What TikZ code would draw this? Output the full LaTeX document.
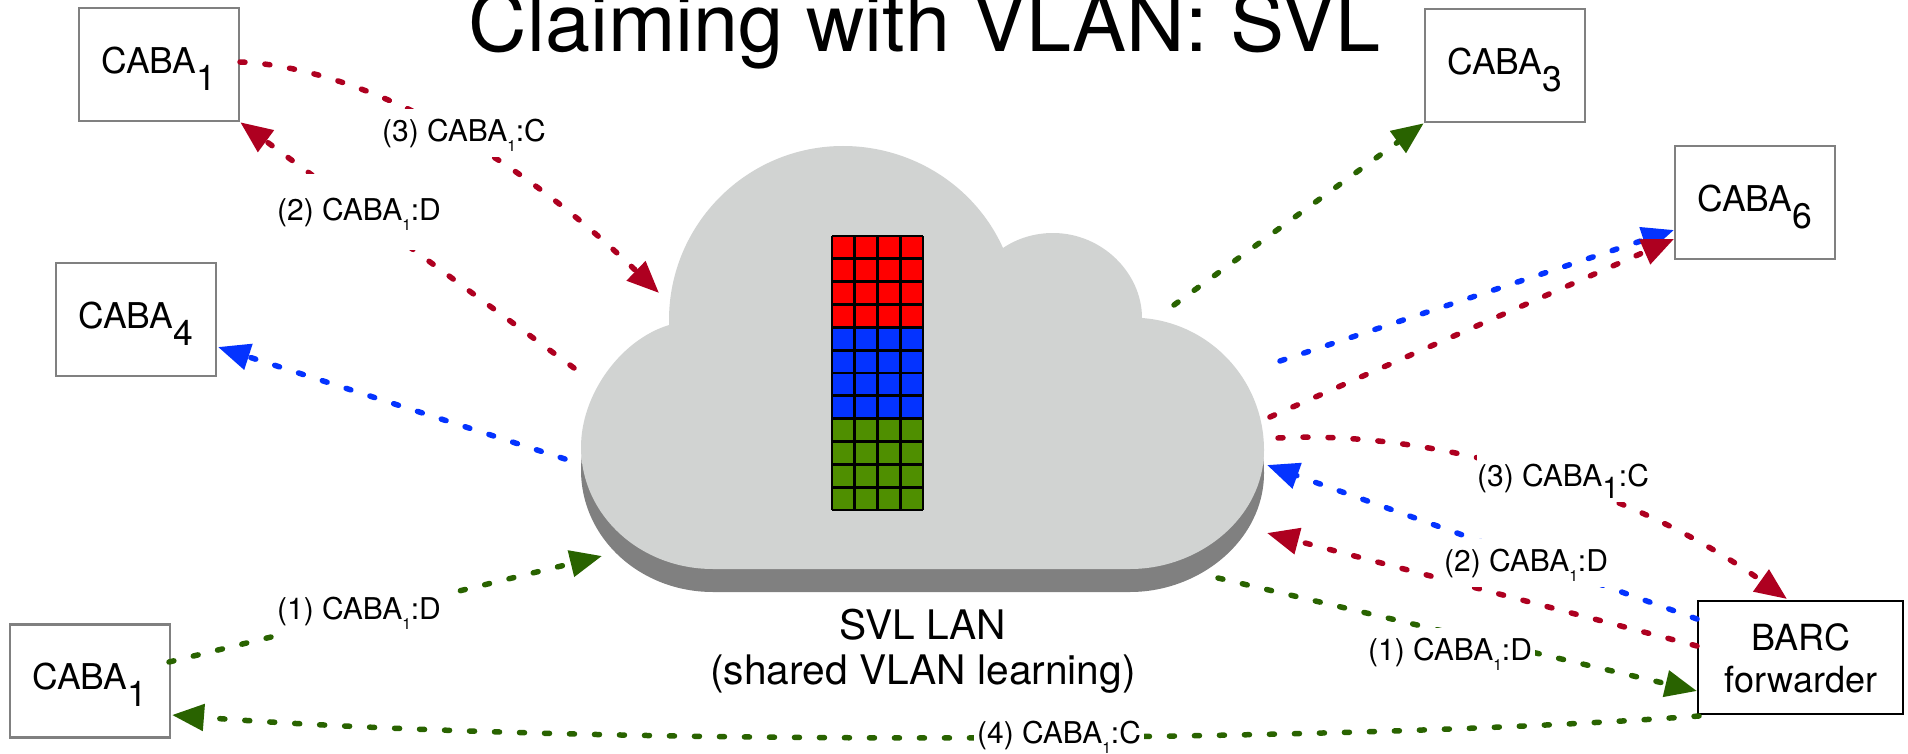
\documentclass[tikz,border=0pt]{standalone}
\usepackage{fontspec}
\setmainfont{TeX Gyre Heros}
\usetikzlibrary{arrows.meta}
\definecolor{redc}{HTML}{AE0020}
\definecolor{bluec}{HTML}{0433FF}
\definecolor{greenc}{HTML}{296300}
\definecolor{cellgreen}{HTML}{4F8F00}
\definecolor{cellred}{HTML}{FF0000}
\definecolor{cloudc}{HTML}{D1D3D2}
\definecolor{shadec}{HTML}{808080}
\newcommand{\boxlab}[1]{\raisebox{9pt}{CABA\smash{\raisebox{-17pt}{#1}}}}
\newcommand{\smalllab}[2]{(#1) CABA\smash{\raisebox{-10pt}{\fontsize{15.5}{15.5}\selectfont 1}}:#2}
\newcommand{\biglab}[2]{(#1) CABA\smash{\raisebox{-12.7pt}{1}}:#2}
\newcommand{\cloudpath}{(581,447) .. controls (581,395) and (620,340) .. (669,325) -- (669,320) .. controls (669,224) and (747,146) .. (843,146) .. controls (911.5,146) and (974.8,185.4) .. (1003,248) .. controls (1017.7,238) and (1035.3,233) .. (1053,233) .. controls (1102,233) and (1142,273) .. (1142,318) .. controls (1210,323) and (1264,380) .. (1264,450) .. controls (1264,517) and (1200,569) .. (1130,569) -- (713,569) .. controls (640,569) and (581,515) .. (581,447) -- cycle}
\tikzset{
  caba/.style={draw=shadec,line width=2.5pt,fill=white,minimum width=160pt,minimum height=113pt,inner sep=0pt,font=\fontsize{35.5}{42}\selectfont},
  conn/.style={line width=5.5pt,line cap=round,dash pattern=on 5pt off 20pt,-{Triangle[length=32pt,width=26pt]}},
  lab/.style={fill=white,inner sep=0pt,minimum width=170pt,minimum height=48pt,font=\fontsize{30}{34}\selectfont},
  barctxt/.style={font=\fontsize{36}{42}\selectfont,align=center,inner sep=0pt},
  lantxt/.style={font=\fontsize{40.7}{45}\selectfont,anchor=base,inner sep=0pt},
  titletxt/.style={font=\fontsize{81}{90}\selectfont,anchor=base,inner sep=0pt},
}
\begin{document}
\begin{tikzpicture}[x=1pt,y=-1pt]
\useasboundingbox (0,0) rectangle (1908,754);
% cloud
\fill[shadec,yshift=-23pt] \cloudpath;
\fill[cloudc] \cloudpath;
% grid
\fill[cellred] (832,236) rectangle (923,327.3);
\fill[bluec] (832,327.3) rectangle (923,418.7);
\fill[cellgreen] (832,418.7) rectangle (923,510);
\foreach \i in {0,...,4} \draw[line width=2.8pt,line cap=square] ({832+22.75*\i},236) -- ({832+22.75*\i},510);
\foreach \j in {0,...,12} \draw[line width=2.8pt,line cap=square] (832,{236+22.83*\j}) -- (923,{236+22.83*\j});
% boxes
\node[caba] (topone) at (159,64.5) {\boxlab{1}};
\node[caba] (four) at (136,319.5) {\boxlab{4}};
\node[caba] (three) at (1505,65.5) {\boxlab{3}};
\node[caba] (six) at (1755,202.5) {\boxlab{6}};
\node[caba] (botone) at (90,681) {\boxlab{1}};
\node[caba,draw=black,minimum width=205pt] (barc) at (1800.5,657.5) {};
\node[barctxt] (barctext) at (1801,658) {BARC\\forwarder};
% free ends
\coordinate (a1) at (240,62);   \coordinate (a2) at (659,293);
\coordinate (b1) at (574,368);
\coordinate (c1) at (565,459);  \coordinate (c2) at (218,347);
\coordinate (d1) at (169,662);  \coordinate (d2) at (602,556);
\coordinate (e1) at (1174,305);
\coordinate (f1) at (1280,361); \coordinate (f2) at (1674,230);
\coordinate (g1) at (1270,417); \coordinate (g2) at (1674,239);
\coordinate (h1) at (1278,438); \coordinate (h2) at (1787,599);
\coordinate (i1) at (1697,619); \coordinate (i2) at (1267,465);
\coordinate (j1) at (1697,646); \coordinate (j2) at (1267,533);
\coordinate (k1) at (1218,578); \coordinate (k2) at (1697,691);
\coordinate (m1) at (1699,716); \coordinate (m2) at (172,715);
% connectors
\draw[conn,redc] (a1) .. controls (340,66) and (490,130) .. (a2);
\draw[conn,redc] (b1) -- (topone.south east);
\draw[conn,bluec] (c1) -- (c2);
\draw[conn,greenc] (d1) -- (d2);
\draw[conn,greenc] (e1) -- (three.south west);
\draw[conn,bluec] (f1) -- (f2);
\draw[conn,redc] (g1) -- (g2);
\draw[conn,redc] (h1) .. controls (1420,430) and (1620,480) .. (h2);
\draw[conn,bluec] (i1) -- (i2);
\draw[conn,redc] (j1) -- (j2);
\draw[conn,greenc] (k1) -- (k2);
\draw[conn,greenc] (m1) .. controls (1300,745) and (560,745) .. (m2);
% labels
\node[lab] (l3a) at (464,133) {\smalllab{3}{C}};
\node[lab,minimum height=76pt] (l2a) at (359,212) {\raisebox{4pt}{\smalllab{2}{D}}};
\node[lab] (l1a) at (359,611) {\smalllab{1}{D}};
\node[lab] (l3b) at (1563,478) {\biglab{3}{C}};
\node[lab] (l2b) at (1526,563) {\smalllab{2}{D}};
\node[lab] (l1b) at (1450,652) {\smalllab{1}{D}};
\node[lab,minimum height=30pt] (l4) at (1059,735) {\smalllab{4}{C}};
% text
\node[titletxt] (title) at (924.5,52) {Claiming with VLAN: SVL};
\node[lantxt] (lan1) at (923,639) {SVL LAN};
\node[lantxt] (lan2) at (923,684) {(shared VLAN learning)};
\end{tikzpicture}
\end{document}
